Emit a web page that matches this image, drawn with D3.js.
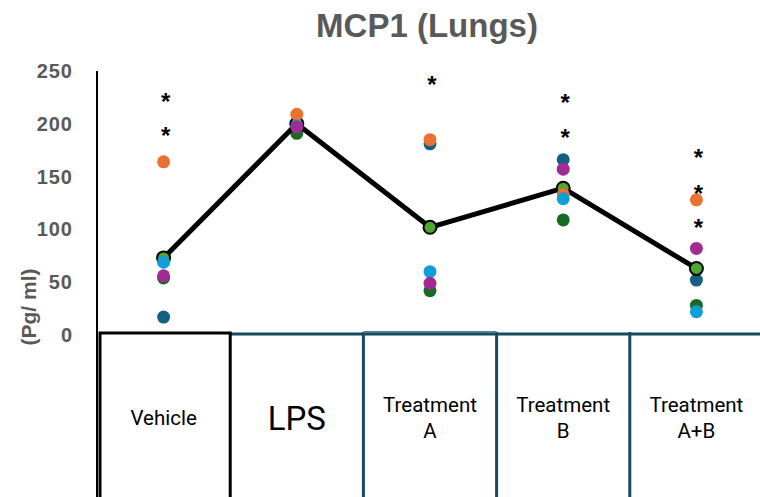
<!DOCTYPE html>
<html>
<head>
<meta charset="utf-8">
<script src="https://cdn.jsdelivr.net/npm/d3@7"></script>
<style>
  body { margin: 0; background: #fff; }
  svg { display: block; }
</style>
</head>
<body>
<div id="chart"></div>
<script>
// data
var categories = ["Vehicle", "LPS", "Treatment A", "Treatment B", "Treatment A+B"];
var labelLines = [["Vehicle"], ["LPS"], ["Treatment", "A"], ["Treatment", "B"], ["Treatment", "A+B"]];
var yTicks = [0, 50, 100, 150, 200, 250];

var darkBlue  = [17, 199, 181, 166, 52];
var darkGreen = [54, 191, 42, 109, 28];
var meanValues = [73, 200, 102, 139, 63];
var orange    = [164, 209, 185, 133, 128];
var lightBlue = [69, 198, 60, 129, 22];
var purple    = [56, 197, 49, 157, 82];

// asterisk heights per category
var stars = [[225, 193], [], [241], [224, 191], [172, 138, 106]];

var width = 760, height = 497;

var svg = d3.select("#chart")
  .append("svg")
  .attr("width", width)
  .attr("height", height);

var x = d3.scaleBand()
  .domain(categories)
  .range([97, 763])
  .padding(0);

var y = d3.scaleLinear()
  .domain([0, 250])
  .range([335, 71]);

var cx = function(i) { return x(categories[i]) + x.bandwidth() / 2; };

// Title
svg.append("text")
  .attr("x", 427)
  .attr("y", 37)
  .attr("text-anchor", "middle")
  .style("font-family", "'Liberation Sans', Arial, sans-serif")
  .style("font-weight", "bold")
  .style("font-size", "33px")
  .style("fill", "#595959")
  .text("MCP1 (Lungs)");

// Y axis
var yAxis = svg.append("g")
  .attr("transform", "translate(97,0)")
  .call(d3.axisLeft(y).tickValues(yTicks).tickSize(0).tickPadding(24));
yAxis.select(".domain").remove();
yAxis.selectAll("text")
  .style("font-family", "'Liberation Sans', Arial, sans-serif")
  .style("font-weight", "bold")
  .style("font-size", "20px")
  .style("letter-spacing", "1px")
  .style("fill", "#595959");

svg.append("line")
  .attr("x1", 97).attr("x2", 97)
  .attr("y1", y(250)).attr("y2", height)
  .attr("stroke", "#000")
  .attr("stroke-width", 2);

svg.append("text")
  .attr("transform", "translate(36,307) rotate(-90)")
  .attr("text-anchor", "middle")
  .style("font-family", "'Liberation Sans', Arial, sans-serif")
  .style("font-weight", "bold")
  .style("font-size", "21px")
  .style("fill", "#595959")
  .text("(Pg/ ml)");

// Category boxes under the chart
var boxTop = 334;
var teal = "#174a5f";

svg.append("line")
  .attr("x1", x(categories[1])).attr("x2", width)
  .attr("y1", boxTop).attr("y2", boxTop)
  .attr("stroke", teal)
  .attr("stroke-width", 3);

categories.slice(2).forEach(function(c) {
  svg.append("line")
    .attr("x1", x(c)).attr("x2", x(c))
    .attr("y1", boxTop - 2).attr("y2", height)
    .attr("stroke", teal)
    .attr("stroke-width", 3);
});
// Treatment A box has its own top edge
svg.append("line")
  .attr("x1", x(categories[2])).attr("x2", x(categories[3]))
  .attr("y1", boxTop - 2).attr("y2", boxTop - 2)
  .attr("stroke", "#4e7f94")
  .attr("stroke-width", 2);

svg.append("rect")
  .attr("x", x(categories[0]) + 3)
  .attr("y", boxTop - 1)
  .attr("width", x.bandwidth() - 3)
  .attr("height", height)
  .attr("fill", "none")
  .attr("stroke", "#000")
  .attr("stroke-width", 3);

// Category labels
labelLines.forEach(function(lines, i) {
  var big = categories[i] === "LPS";
  var fs = big ? 33 : 20.5;
  var lh = 26;
  var y0 = 418 - (lines.length - 1) * lh / 2;
  var t = svg.append("text")
    .attr("text-anchor", "middle")
    .style("font-family", "Roboto, 'Liberation Sans', sans-serif")
    .style("font-size", fs + "px")
    .style("fill", "#000");
  lines.forEach(function(line, j) {
    t.append("tspan")
      .attr("x", cx(i))
      .attr("y", y0 + j * lh)
      .attr("dy", "0.35em")
      .text(line);
  });
});

// Points
function drawSeries(values, color) {
  svg.append("g")
    .selectAll("circle")
    .data(values)
    .join("circle")
    .attr("cx", function(d, i) { return cx(i); })
    .attr("cy", function(d) { return y(d); })
    .attr("r", 6.5)
    .attr("fill", color);
}

drawSeries(darkBlue, "#156082");
drawSeries(darkGreen, "#196B24");

// Mean line
svg.append("path")
  .datum(meanValues)
  .attr("fill", "none")
  .attr("stroke", "#000")
  .attr("stroke-width", 5)
  .attr("stroke-linejoin", "round")
  .attr("d", d3.line()
    .x(function(d, i) { return cx(i); })
    .y(function(d) { return y(d); }));

svg.append("g")
  .selectAll("circle")
  .data(meanValues)
  .join("circle")
  .attr("cx", function(d, i) { return cx(i); })
  .attr("cy", function(d) { return y(d); })
  .attr("r", 6.5)
  .attr("fill", "#4EA72E")
  .attr("stroke", "#000")
  .attr("stroke-width", 2);

drawSeries(orange, "#E97132");
drawSeries(lightBlue, "#0F9ED5");
drawSeries(purple, "#A02B93");

// Significance stars
stars.forEach(function(list, i) {
  list.forEach(function(v) {
    svg.append("text")
      .attr("x", cx(i) + 2)
      .attr("y", y(v))
      .attr("dy", "0.52em")
      .attr("text-anchor", "middle")
      .style("font-family", "'Liberation Sans', Arial, sans-serif")
      .style("font-weight", "bold")
      .style("font-size", "24px")
      .style("fill", "#000")
      .text("*");
  });
});
</script>
</body>
</html>
